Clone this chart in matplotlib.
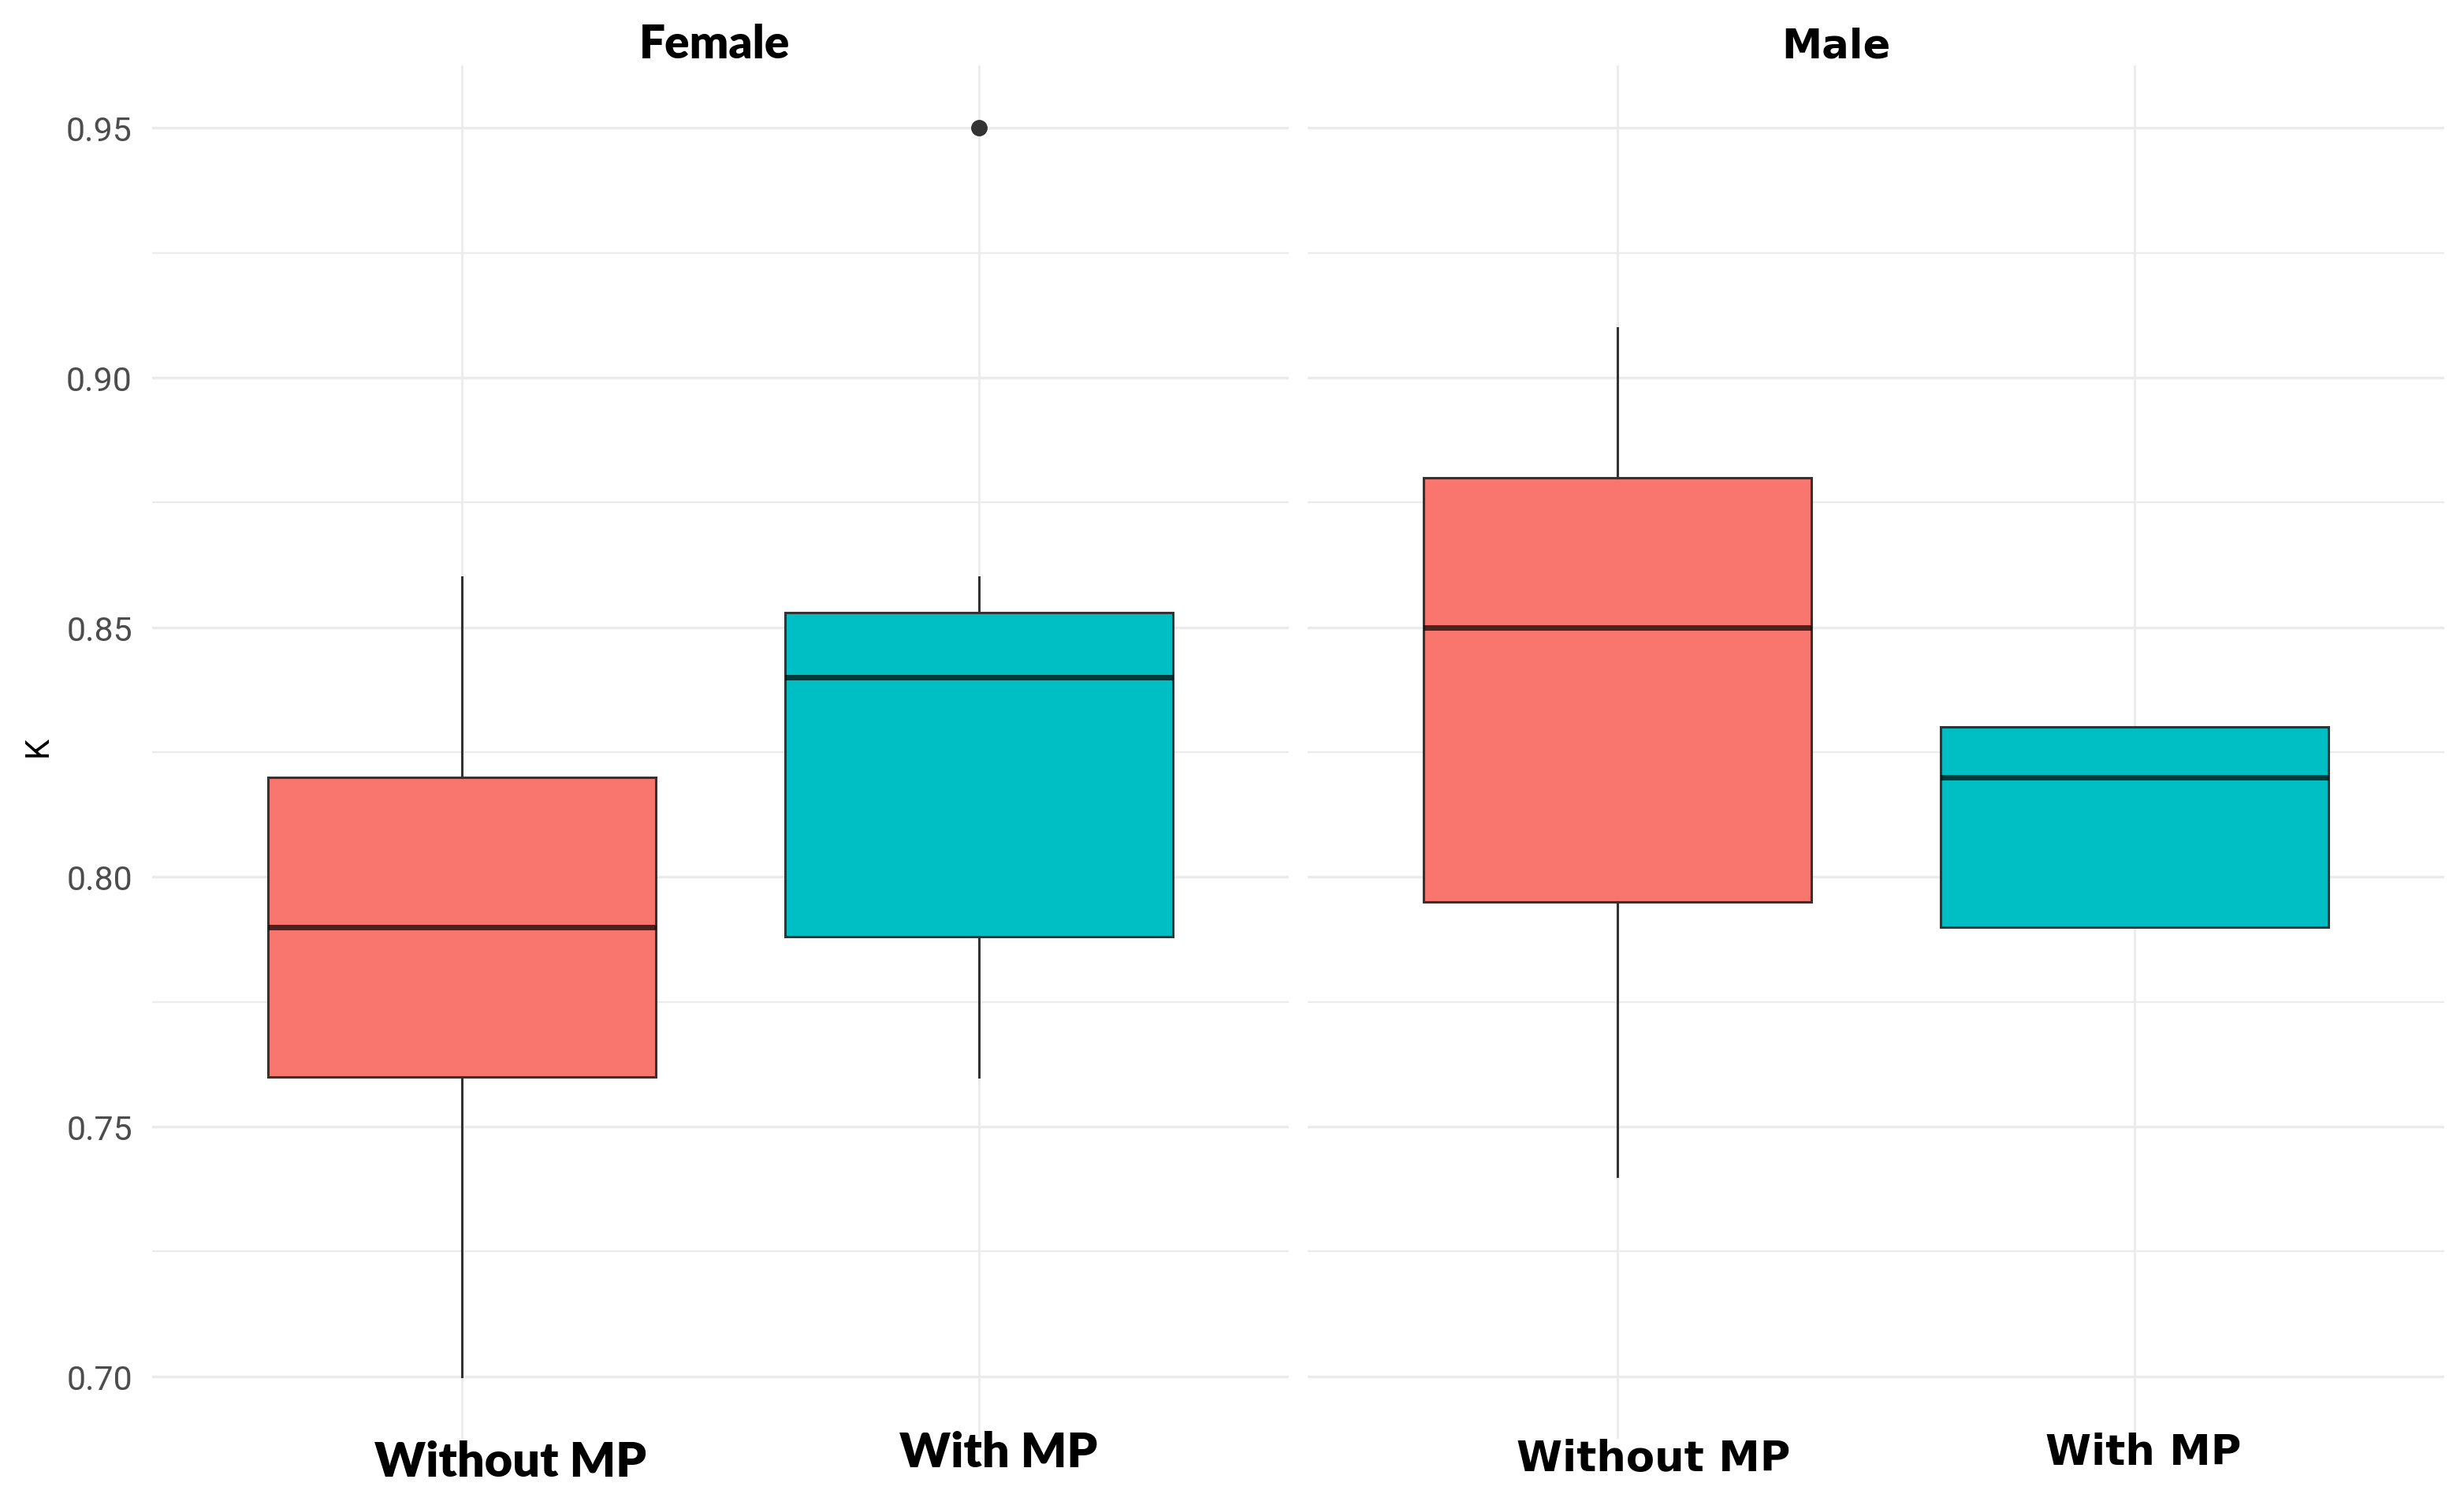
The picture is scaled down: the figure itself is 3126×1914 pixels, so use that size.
import numpy as np
import matplotlib.pyplot as plt
from matplotlib.transforms import ScaledTranslation, blended_transform_factory

# data
panels = ["Female", "Male"]
groups = ["Without MP", "With MP"]
fill_colors = ["#F8766D", "#00BFC4"]

# lower whisker, Q1, median, Q3, upper whisker
female_without = [0.700, 0.760, 0.790, 0.820, 0.860]
female_with = [0.760, 0.788, 0.840, 0.853, 0.860]
male_without = [0.740, 0.795, 0.850, 0.880, 0.910]
male_with = [0.790, 0.790, 0.820, 0.830, 0.830]
female_outliers = [[], [0.95]]
male_outliers = [[], []]

y_ticks = [0.70, 0.75, 0.80, 0.85, 0.90, 0.95]
y_ticklabels = ["0.70", "0.75", "0.80", "0.85", "0.90", "0.95"]
y_label = "K"

summaries = {"Female": [female_without, female_with], "Male": [male_without, male_with]}
outliers = {"Female": female_outliers, "Male": male_outliers}

W, H = 3126, 1915
fig = plt.figure(figsize=(W / 100, H / 100), dpi=100)

# pixel boxes of the two panels (left, right), shared top/bottom
top_px, bot_px = 84, 1826
panel_px = {"Female": (193, 1635), "Male": (1659, 3101)}

narrow = ["Roboto", "DejaVu Sans"]
fem_font = ["Lato", "DejaVu Sans"]
male_font = ["DejaVu Sans"]

# title position (px) and x-label offsets (px) per panel; the two halves were styled differently
title_px = {"Female": (907, 56), "Male": (2329, 60)}
label_shift = {"Female": [(61, 29), (25, 17)], "Male": [(45, 25), (11, 17)]}
label_font = {"Female": (fem_font, 44, "heavy"), "Male": (male_font, 38, "bold")}
title_font = {"Female": (fem_font, 42, "heavy"), "Male": (male_font, 37, "bold")}

minor = (np.array(y_ticks[:-1]) + np.array(y_ticks[1:])) / 2

for i, name in enumerate(panels):
    x0, x1 = panel_px[name]
    ax = fig.add_axes([x0 / W, 1 - bot_px / H, (x1 - x0) / W, (bot_px - top_px) / H])
    for s in ax.spines.values():
        s.set_visible(False)
    ax.set_xlim(0.4, 2.6)
    ax.set_ylim(0.6875, 0.9625)

    # grid
    for y in y_ticks:
        ax.axhline(y, color="#ebebeb", lw=2.4, zorder=0)
    for y in minor:
        ax.axhline(y, color="#ebebeb", lw=1.6, zorder=0)
    for x in [1, 2]:
        ax.axvline(x, color="#ebebeb", lw=2.0, zorder=0)

    stats = []
    for g, (lo, q1, med, q3, hi) in enumerate(summaries[name]):
        stats.append(dict(whislo=lo, q1=q1, med=med, q3=q3, whishi=hi,
                          fliers=outliers[name][g], label=groups[g]))
    bp = ax.bxp(stats, positions=[1, 2], widths=0.75, patch_artist=True,
                showcaps=False,
                boxprops=dict(edgecolor="#333333", linewidth=2.2),
                whiskerprops=dict(color="#333333", linewidth=2.2),
                medianprops=dict(color="black", alpha=0.7, linewidth=5.0, solid_capstyle="butt"),
                flierprops=dict(marker="o", markerfacecolor="#333333",
                                markeredgecolor="#333333", markersize=14))
    for patch, c in zip(bp["boxes"], fill_colors):
        patch.set_facecolor(c)

    ax.set_xticks([])
    ax.tick_params(axis="y", length=0, pad=18)
    if i == 0:
        ax.set_yticks(y_ticks, y_ticklabels)
        for t in ax.get_yticklabels():
            t.set_family(narrow)
            t.set_fontsize(31)
            t.set_color("#4d4d4d")
    else:
        ax.set_yticks([])

    # category labels under each panel
    fam, size, wt = label_font[name]
    tr = blended_transform_factory(ax.transData, ax.transAxes)
    for k, g in enumerate(groups):
        dx, dy = label_shift[name][k]
        off = tr + ScaledTranslation(dx / 100, -dy / 100, fig.dpi_scale_trans)
        ax.text(k + 1, 0, g, transform=off, ha="center", va="center",
                family=fam, fontsize=size, fontweight=wt, color="black")

    fam, size, wt = title_font[name]
    tx, ty = title_px[name]
    fig.text(tx / W, 1 - ty / H, name, ha="center", va="center",
             family=fam, fontsize=size, fontweight=wt, color="black")

fig.text(48 / W, 1 - 947 / H, y_label, rotation=90, ha="center", va="center",
         family=narrow, fontsize=30, color="black")

fig.savefig("out.png", dpi=100, facecolor="white")
